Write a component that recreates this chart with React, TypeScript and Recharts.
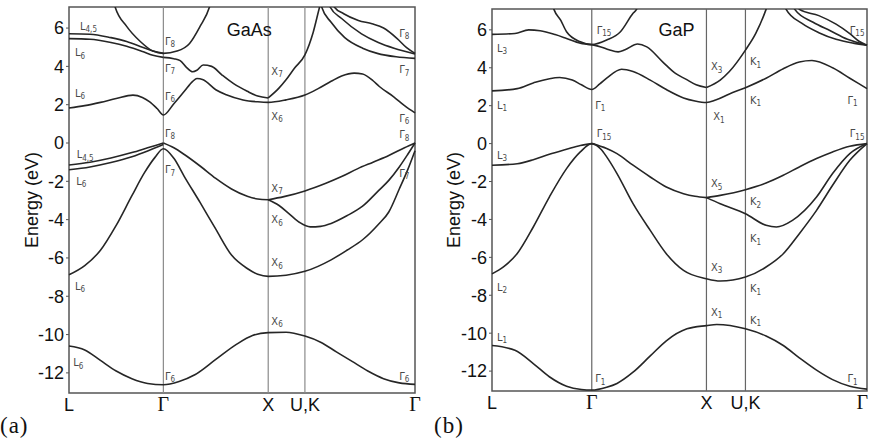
import React from 'react';
import {
  LineChart,
  Line,
  XAxis,
  YAxis,
  ReferenceLine,
  ReferenceDot,
  ReferenceArea,
} from 'recharts';

// k-path positions of the symmetry points (units of 2π/a along the path)
const SYM_NAMES = ['L', 'Γ', 'X', 'U,K', 'Γ'];
const SYM_GAAS = [0, 0.9, 1.9, 2.25, 3.3];
const SYM_GAP = [0, 0.87, 1.87, 2.21, 3.27];
const E_TICKS = [-12, -10, -8, -6, -4, -2, 0, 2, 4, 6];
const E_MIN = -13.05;
const E_MAX = 7.1;

// ---- GaAs bands: [k, E (eV)] ----
const gaasV0 = [[0, -10.6], [0.15, -10.8], [0.3, -11.35], [0.45, -11.9], [0.6, -12.3], [0.75, -12.55], [0.9, -12.62], [1.05, -12.45], [1.2, -12.1], [1.4, -11.3], [1.6, -10.5], [1.75, -10.05], [1.9, -9.9], [2.07, -9.88], [2.25, -10.08], [2.4, -10.4], [2.55, -10.9], [2.7, -11.4], [2.85, -11.9], [3.0, -12.3], [3.15, -12.52], [3.3, -12.6]];
const gaasV3 = [[0, -6.88], [0.15, -6.4], [0.3, -5.6], [0.45, -4.3], [0.6, -2.75], [0.72, -1.55], [0.82, -0.75], [0.9, -0.3], [1.0, -0.8], [1.1, -1.75], [1.25, -3.1], [1.4, -4.5], [1.55, -5.85], [1.7, -6.55], [1.8, -6.85], [1.9, -6.96], [2.07, -6.9], [2.25, -6.7], [2.5, -6.1], [2.65, -5.6], [2.8, -5.05], [2.95, -4.25], [3.05, -3.6], [3.15, -2.4], [3.23, -1.4], [3.3, -0.4]];
const gaasVL1 = [[0, -1.15], [0.2, -1.0], [0.4, -0.78], [0.6, -0.5], [0.75, -0.25], [0.9, 0]];
const gaasVL2 = [[0, -1.4], [0.2, -1.25], [0.4, -1.02], [0.6, -0.72], [0.75, -0.42], [0.9, -0.08]];
const gaasVGX = [[0.9, 0], [1.0, -0.25], [1.1, -0.6], [1.25, -1.2], [1.4, -1.85], [1.55, -2.4], [1.7, -2.78], [1.8, -2.92], [1.9, -2.96]];
const gaasVA = [[1.9, -2.96], [2.05, -2.8], [2.25, -2.5], [2.45, -2.1], [2.6, -1.75], [2.75, -1.35], [2.9, -1.0], [3.05, -0.65], [3.2, -0.25], [3.3, 0]];
const gaasVB = [[1.9, -2.96], [2.0, -3.25], [2.1, -3.7], [2.2, -4.15], [2.3, -4.38], [2.4, -4.35], [2.5, -4.2], [2.65, -3.8], [2.8, -3.3], [2.95, -2.5], [3.05, -1.95], [3.15, -1.25], [3.23, -0.6], [3.3, 0]];
const gaasC1 = [[0, 1.83], [0.15, 1.95], [0.3, 2.12], [0.45, 2.32], [0.61, 2.5], [0.7, 2.38], [0.77, 2.15], [0.84, 1.8], [0.9, 1.46], [1.0, 2.05], [1.1, 2.7], [1.18, 3.22], [1.22, 3.37], [1.28, 3.3], [1.4, 2.78], [1.5, 2.52], [1.66, 2.25], [1.8, 2.15], [1.9, 2.12], [2.07, 2.25], [2.25, 2.5], [2.38, 2.85], [2.5, 3.22], [2.6, 3.5], [2.72, 3.65], [2.8, 3.6], [2.9, 3.25], [2.96, 2.95], [3.1, 2.4], [3.2, 1.95], [3.3, 1.57]];
const gaasC2L = [[0, 5.45], [0.2, 5.42], [0.4, 5.25], [0.55, 5.05], [0.7, 4.78], [0.8, 4.58], [0.9, 4.47]];
const gaasC3L = [[0, 5.7], [0.2, 5.68], [0.4, 5.5], [0.55, 5.3], [0.7, 5.0], [0.8, 4.8], [0.9, 4.68]];
const gaasC2GX = [[0.9, 4.47], [1.0, 4.4], [1.06, 4.3], [1.12, 3.95], [1.18, 3.72], [1.22, 3.8], [1.28, 4.07], [1.36, 4.0], [1.46, 3.55], [1.57, 3.1], [1.7, 2.7], [1.8, 2.45], [1.9, 2.35]];
const gaasC2Up = [[1.9, 2.35], [2.0, 2.85], [2.07, 3.3], [2.15, 3.9], [2.25, 4.6], [2.33, 5.8], [2.39, 7.1], [2.42, 7.7]];
const gaasG8 = [[0.41, 7.7], [0.44, 7.1], [0.55, 6.09], [0.68, 5.3], [0.8, 4.8], [0.9, 4.68], [1.03, 4.8], [1.15, 5.2], [1.25, 6.09], [1.34, 7.1], [1.37, 7.7]];
const gaasR1 = [[2.39, 7.7], [2.41, 7.1], [2.5, 6.3], [2.63, 5.5], [2.8, 4.95], [2.94, 4.68], [3.12, 4.5], [3.3, 4.42]];
const gaasR2 = [[2.47, 7.6], [2.49, 7.1], [2.6, 6.5], [2.79, 5.7], [2.95, 5.25], [3.1, 4.95], [3.3, 4.65]];
const gaasR3 = [[2.51, 7.6], [2.53, 7.1], [2.62, 6.75], [2.76, 6.4], [2.89, 6.22], [3.0, 6.0], [3.13, 5.45], [3.22, 4.98], [3.3, 4.68]];

// ---- GaP bands ----
const gapV0 = [[0, -10.65], [0.2, -10.9], [0.36, -11.6], [0.5, -12.3], [0.65, -12.8], [0.78, -12.97], [0.87, -13.0], [1.0, -12.85], [1.09, -12.65], [1.23, -12.06], [1.38, -11.2], [1.52, -10.4], [1.7, -9.77], [1.87, -9.6], [1.96, -9.54], [2.21, -9.77], [2.39, -10.15], [2.54, -10.65], [2.68, -11.3], [2.83, -11.95], [2.97, -12.45], [3.12, -12.8], [3.27, -12.95]];
const gapV3 = [[0, -6.87], [0.1, -6.5], [0.22, -5.8], [0.36, -4.4], [0.5, -2.82], [0.65, -1.32], [0.77, -0.44], [0.87, 0], [0.95, -0.3], [1.0, -0.7], [1.09, -1.58], [1.23, -3.17], [1.38, -4.58], [1.52, -5.81], [1.67, -6.69], [1.87, -7.13], [1.99, -7.25], [2.21, -7.04], [2.39, -6.51], [2.54, -5.81], [2.68, -4.75], [2.83, -3.52], [2.97, -2.2], [3.12, -0.88], [3.27, 0]];
const gapVL = [[0, -1.14], [0.22, -1.06], [0.36, -0.85], [0.5, -0.56], [0.65, -0.3], [0.77, -0.1], [0.87, 0]];
const gapVGX = [[0.87, 0], [1.0, -0.26], [1.09, -0.53], [1.23, -1.14], [1.38, -1.76], [1.52, -2.29], [1.67, -2.64], [1.77, -2.78], [1.87, -2.85]];
const gapVA = [[1.87, -2.85], [1.99, -2.73], [2.21, -2.43], [2.39, -2.08], [2.54, -1.67], [2.68, -1.23], [2.83, -0.79], [2.97, -0.44], [3.12, -0.14], [3.27, 0]];
const gapVB = [[1.87, -2.85], [1.99, -3.17], [2.21, -3.7], [2.39, -4.31], [2.48, -4.4], [2.62, -4.05], [2.83, -2.82], [2.97, -1.58], [3.12, -0.53], [3.27, 0]];
const gapC1 = [[0, 2.78], [0.22, 2.9], [0.36, 3.2], [0.59, 3.49], [0.7, 3.35], [0.78, 3.1], [0.87, 2.85], [0.94, 3.15], [1.0, 3.45], [1.13, 3.92], [1.23, 3.8], [1.38, 3.35], [1.52, 2.85], [1.67, 2.41], [1.77, 2.25], [1.87, 2.17], [1.95, 2.3], [2.07, 2.62], [2.21, 2.95], [2.39, 3.45], [2.54, 3.95], [2.68, 4.3], [2.79, 4.38], [2.97, 4.0], [3.12, 3.45], [3.27, 2.9]];
const gapC2L = [[0, 5.76], [0.2, 5.81], [0.32, 6.0], [0.42, 5.95], [0.55, 5.75], [0.65, 5.55], [0.77, 5.3], [0.87, 5.22]];
const gapC2GX = [[0.87, 5.22], [0.95, 5.1], [1.02, 4.95], [1.1, 4.84], [1.16, 4.95], [1.27, 5.25], [1.35, 5.1], [1.49, 4.3], [1.6, 3.7], [1.69, 3.4], [1.78, 3.1], [1.87, 2.96]];
const gapC2Up = [[1.87, 2.96], [1.99, 3.35], [2.07, 3.8], [2.21, 4.93], [2.3, 5.81], [2.39, 7.08], [2.42, 7.6]];
const gapG15 = [[0.51, 7.7], [0.54, 7.08], [0.6, 6.5], [0.65, 5.9], [0.77, 5.37], [0.87, 5.22], [1.0, 5.46], [1.12, 5.9], [1.23, 6.87], [1.26, 7.08], [1.29, 7.6]];
const gapR1 = [[2.54, 7.6], [2.565, 7.08], [2.7, 6.35], [2.85, 5.85], [3.0, 5.5], [3.15, 5.3], [3.27, 5.19]];
const gapR2 = [[2.61, 7.6], [2.64, 7.08], [2.8, 6.4], [2.95, 5.95], [3.1, 5.5], [3.27, 5.19]];
const gapR3 = [[2.66, 7.6], [2.68, 7.08], [2.85, 6.75], [3.0, 6.3], [3.12, 5.8], [3.2, 5.4], [3.27, 5.19]];

// ---- level labels: symbol, subscript, k, E ----
const GAAS_LABELS = [
  { t: 'L', s: '4,5', k: 0.105, e: 6.09 },
  { t: 'L', s: '6', k: 0.057, e: 4.7 },
  { t: 'L', s: '6', k: 0.057, e: 2.61 },
  { t: 'L', s: '4,5', k: 0.073, e: -0.6 },
  { t: 'L', s: '6', k: 0.07, e: -2.0 },
  { t: 'L', s: '6', k: 0.057, e: -7.48 },
  { t: 'L', s: '6', k: 0.04, e: -11.48 },
  { t: 'Γ', s: '8', k: 0.915, e: 5.3 },
  { t: 'Γ', s: '7', k: 0.915, e: 3.9 },
  { t: 'Γ', s: '6', k: 0.915, e: 2.43 },
  { t: 'Γ', s: '8', k: 0.915, e: 0.52 },
  { t: 'Γ', s: '7', k: 0.915, e: -1.4 },
  { t: 'Γ', s: '6', k: 0.915, e: -12.17 },
  { t: 'X', s: '7', k: 1.93, e: 3.74 },
  { t: 'X', s: '6', k: 1.93, e: 1.39 },
  { t: 'X', s: '7', k: 1.93, e: -2.35 },
  { t: 'X', s: '6', k: 1.93, e: -4.0 },
  { t: 'X', s: '6', k: 1.93, e: -6.26 },
  { t: 'X', s: '6', k: 1.93, e: -9.3 },
  { t: 'Γ', s: '8', k: 3.15, e: 5.74 },
  { t: 'Γ', s: '7', k: 3.15, e: 3.83 },
  { t: 'Γ', s: '6', k: 3.15, e: 1.3 },
  { t: 'Γ', s: '8', k: 3.15, e: 0.43 },
  { t: 'Γ', s: '7', k: 3.15, e: -1.57 },
  { t: 'Γ', s: '6', k: 3.15, e: -12.17 },
];

const GAP_LABELS = [
  { t: 'L', s: '3', k: 0.043, e: 5.02 },
  { t: 'L', s: '1', k: 0.043, e: 2.02 },
  { t: 'L', s: '3', k: 0.043, e: -0.62 },
  { t: 'L', s: '2', k: 0.043, e: -7.57 },
  { t: 'L', s: '1', k: 0.043, e: -10.21 },
  { t: 'Γ', s: '15', k: 0.913, e: 5.99 },
  { t: 'Γ', s: '1', k: 0.9, e: 2.02 },
  { t: 'Γ', s: '15', k: 0.913, e: 0.53 },
  { t: 'Γ', s: '1', k: 0.9, e: -12.41 },
  { t: 'X', s: '3', k: 1.91, e: 4.05 },
  { t: 'X', s: '1', k: 1.93, e: 1.41 },
  { t: 'X', s: '5', k: 1.91, e: -2.11 },
  { t: 'X', s: '3', k: 1.91, e: -6.51 },
  { t: 'X', s: '1', k: 1.91, e: -8.89 },
  { t: 'K', s: '1', k: 2.25, e: 4.31 },
  { t: 'K', s: '1', k: 2.25, e: 2.29 },
  { t: 'K', s: '2', k: 2.25, e: -3.08 },
  { t: 'K', s: '1', k: 2.25, e: -5.02 },
  { t: 'K', s: '1', k: 2.25, e: -7.66 },
  { t: 'K', s: '1', k: 2.25, e: -9.33 },
  { t: 'Γ', s: '15', k: 3.12, e: 5.99 },
  { t: 'Γ', s: '1', k: 3.1, e: 2.29 },
  { t: 'Γ', s: '15', k: 3.12, e: 0.53 },
  { t: 'Γ', s: '1', k: 3.1, e: -12.41 },
];

const GAAS_BANDS = [gaasV0, gaasV3, gaasVL1, gaasVL2, gaasVGX, gaasVA, gaasVB, gaasC1, gaasC2L, gaasC3L, gaasC2GX, gaasC2Up, gaasG8, gaasR1, gaasR2, gaasR3];
const GAP_BANDS = [gapV0, gapV3, gapVL, gapVGX, gapVA, gapVB, gapC1, gapC2L, gapC2GX, gapC2Up, gapG15, gapR1, gapR2, gapR3];

const SANS = "'Liberation Sans', Arial, sans-serif";
const SERIF = "'Liberation Serif', 'Times New Roman', serif";

const toPts = (arr: number[][]) => arr.map(([k, e]) => ({ k, e }));

function LevelLabel({ cx, cy, t, s }: { cx: number; cy: number; t: string; s: string }) {
  return (
    <text x={cx} y={cy} fill="#4a4a4a" fontSize={11} fontFamily="'DejaVu Sans Condensed', 'DejaVu Sans', sans-serif" dominantBaseline="central">
      {t}
      <tspan fontSize={8} dy={3}>{s}</tspan>
    </text>
  );
}

interface PanelProps {
  sym: number[];
  bands: number[][][];
  labels: { t: string; s: string; k: number; e: number }[];
  title: string;
  titleAt: [number, number];
  top: number;
  yWidth: number;
  right: number;
  labelX: number;
  rightTicks?: boolean;
  vColor: string;
}

function Panel({ sym, bands, labels, title, titleAt, top, yWidth, right, labelX, rightTicks, vColor }: PanelProps) {
  const kEnd = sym[sym.length - 1];
  const H = 442;
  const plotBottom = top === 7 ? 393 : 391;
  return (
    <LineChart width={435} height={H} margin={{ top, right, left: 0, bottom: 0 }}>
      <XAxis
        dataKey="k"
        type="number"
        domain={[0, kEnd]}
        ticks={sym}
        interval={0}
        axisLine={false}
        tickLine={false}
        tickSize={0}
        tickMargin={0}
        height={H - plotBottom}
        tick={(p: any) => {
          const i = sym.findIndex((v) => Math.abs(v - p.payload.value) < 1e-6);
          const name = SYM_NAMES[i] ?? '';
          // the last Γ of the right panel sits on the page edge: keep it inside
          const atEdge = rightTicks && i === sym.length - 1;
          return (
            <text
              x={atEdge ? p.x + 1 : p.x}
              y={p.y + 18}
              textAnchor={atEdge ? 'end' : 'middle'}
              fontSize={name === 'Γ' ? 20 : 18}
              fontFamily={name === 'Γ' ? SERIF : SANS}
              fill="#111"
            >
              {name}
            </text>
          );
        }}
      />
      <YAxis
        type="number"
        domain={[E_MIN, E_MAX]}
        allowDataOverflow
        ticks={E_TICKS}
        width={yWidth}
        axisLine={false}
        tickSize={3}
        tickMargin={2}
        tickLine={{ stroke: '#555' }}
        tick={{ fontSize: 18, fill: '#111', fontFamily: SANS }}
        label={{
          content: (p: any) => {
            const vb = p.viewBox || { x: 0, y: top, height: plotBottom - top };
            const cy = vb.y + vb.height / 2;
            const x = labelX;
            return (
              <text x={x} y={cy} transform={`rotate(-90 ${x} ${cy})`} textAnchor="middle" fontSize={18} fontFamily={SANS} fill="#111">
                Energy (eV)
              </text>
            );
          },
        }}
      />
      {rightTicks && (
        <YAxis
          yAxisId="r"
          orientation="right"
          mirror
          type="number"
          domain={[E_MIN, E_MAX]}
          allowDataOverflow
          ticks={E_TICKS}
          width={0}
          axisLine={false}
          tick={false}
          tickSize={5}
          tickLine={{ stroke: '#555' }}
        />
      )}
      {sym.slice(1, 4).map((x, i) => (
        <ReferenceLine key={`v${i}`} x={x} stroke={vColor} strokeWidth={1.2} />
      ))}
      <ReferenceArea x1={0} x2={kEnd} y1={E_MIN} y2={E_MAX} fill="none" stroke="#555" strokeWidth={1.5} fillOpacity={0} />
      {bands.map((b, i) => (
        <Line
          key={`b${i}`}
          data={toPts(b)}
          dataKey="e"
          type="monotone"
          stroke="#262626"
          strokeWidth={1.6}
          dot={false}
          activeDot={false}
          isAnimationActive={false}
        />
      ))}
      {labels.map((l, i) => (
        <ReferenceDot
          key={`l${i}`}
          x={l.k}
          y={l.e}
          r={0}
          isFront
          shape={(p: any) => <LevelLabel cx={p.cx} cy={p.cy} t={l.t} s={l.s} />}
        />
      ))}
      <ReferenceDot
        x={titleAt[0]}
        y={titleAt[1]}
        r={0}
        isFront
        shape={(p: any) => (
          <text x={p.cx} y={p.cy} textAnchor="middle" dominantBaseline="central" fontSize={18} fontFamily={SANS} fill="#111">
            {title}
          </text>
        )}
      />
    </LineChart>
  );
}

export default function App() {
  return (
    <div style={{ position: 'absolute', left: 0, top: 0, width: 869, height: 442, background: '#fff', overflow: 'hidden' }}>
      <div style={{ position: 'absolute', left: 0, top: 0 }}>
        <Panel
          sym={SYM_GAAS}
          bands={GAAS_BANDS}
          labels={GAAS_LABELS}
          title="GaAs"
          titleAt={[1.72, 5.9]}
          top={7}
          yWidth={69}
          right={20}
          labelX={38}
          vColor="#8a8a8a"
        />
      </div>
      <div style={{ position: 'absolute', left: 434, top: 0 }}>
        <Panel
          sym={SYM_GAP}
          bands={GAP_BANDS}
          labels={GAP_LABELS}
          title="GaP"
          titleAt={[1.61, 5.97]}
          top={9}
          yWidth={58}
          right={2}
          labelX={26}
          rightTicks
          vColor="#666"
        />
      </div>
      <div style={{ position: 'absolute', left: 0, top: 413, fontFamily: SERIF, fontSize: 23, letterSpacing: 1, color: '#111' }}>(a)</div>
      <div style={{ position: 'absolute', left: 434, top: 413, fontFamily: SERIF, fontSize: 23, letterSpacing: 1, color: '#111' }}>(b)</div>
    </div>
  );
}
